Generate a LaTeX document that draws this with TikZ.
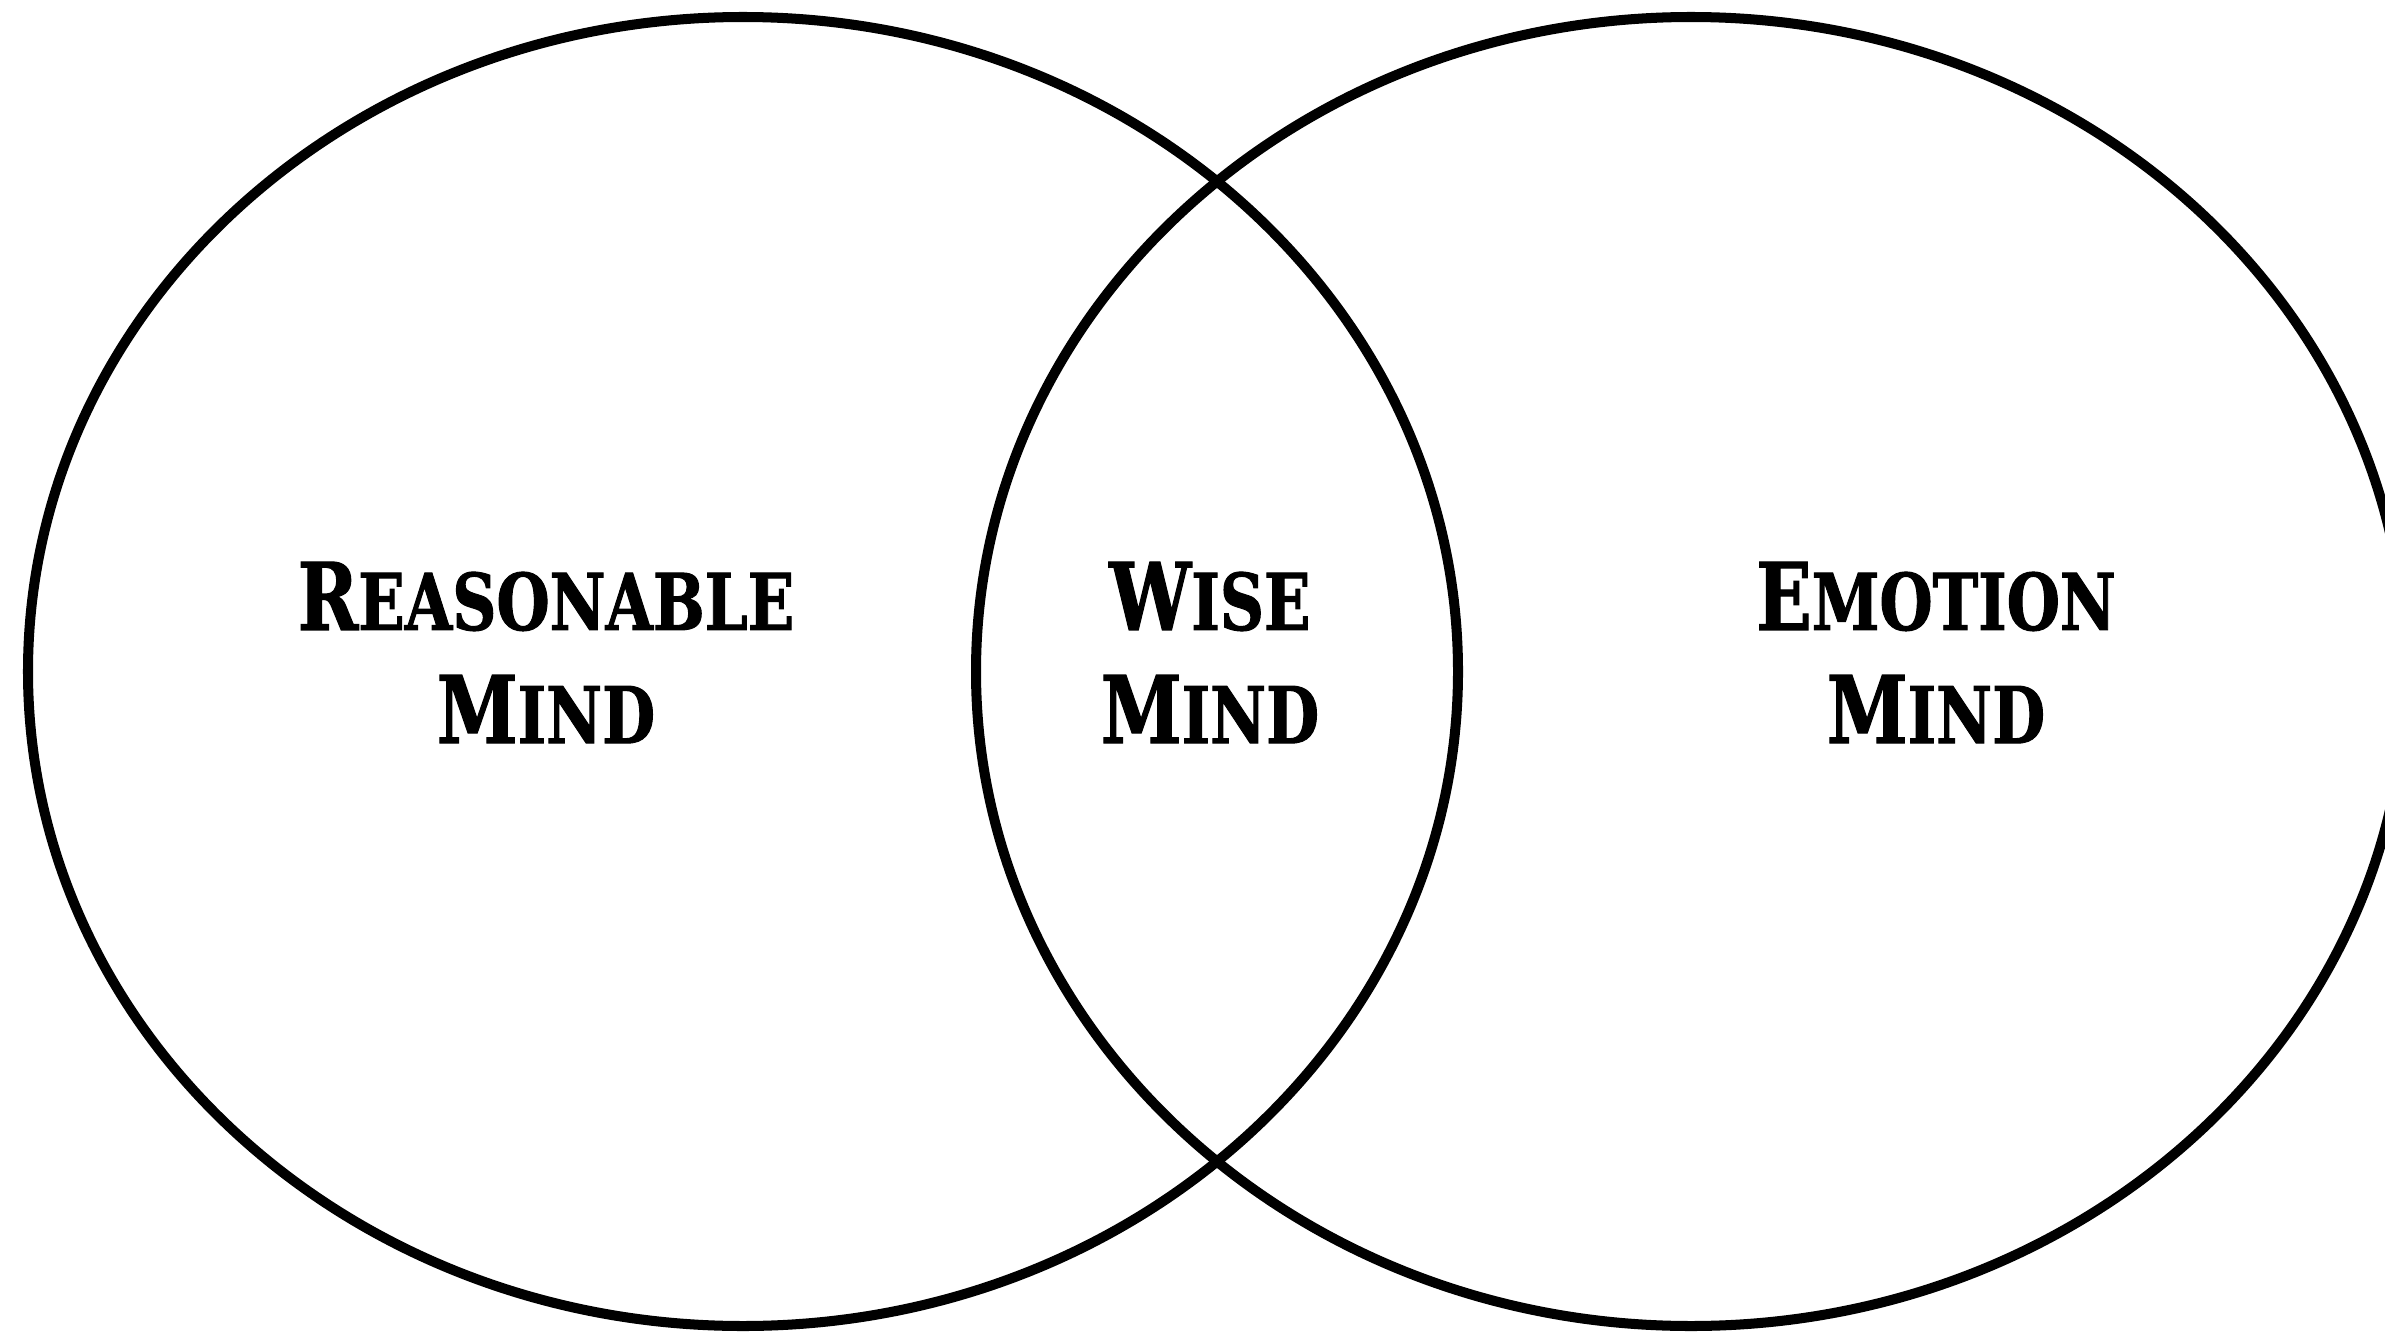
\documentclass[tikz,border=0pt]{standalone}
\usepackage{fontspec}
\setmainfont{DejaVu Serif}
\newfontfamily\mindfont{DejaVu Serif}[FakeStretch=0.78, FakeBold=1.2]
\usepackage{tikz}
\usetikzlibrary{
  shapes.geometric,
  positioning
}
\newcommand{\mindsc}[2]{{\fontsize{26.6}{32.2}\selectfont #1}{\fontsize{22.3}{32.2}\selectfont #2}}
\tikzset{
  mindring/.style={
    draw=black, ellipse, line width=2.85pt, inner sep=0pt,
    minimum width=14.3cm, minimum height=13.09cm
  },
  mindlabel/.style={
    align=center, inner sep=0pt, font=\mindfont\bfseries\fontsize{26.6}{32.2}\selectfont
  }
}
\begin{document}
\begin{tikzpicture}
  \useasboundingbox (0,0) rectangle (23.85,-13.31);
  \clip (0,0) rectangle (23.85,-13.31);
  \node[mindring] (reasonring) at (7.43,-6.715) {};
  \node[mindring] (emotionring) at (16.91,-6.715) {};
  \node[mindlabel] (reason) at (5.46,-6.525) {\mindsc{R}{EASONABLE}\\\mindsc{M}{IND}};
  \node[mindlabel] (wise) at (12.10,-6.525) {\mindsc{W}{ISE}\\\mindsc{M}{IND}};
  \node[mindlabel] (emotion) at (19.36,-6.525) {\mindsc{E}{MOTION}\\\mindsc{M}{IND}};
\end{tikzpicture}
\end{document}
